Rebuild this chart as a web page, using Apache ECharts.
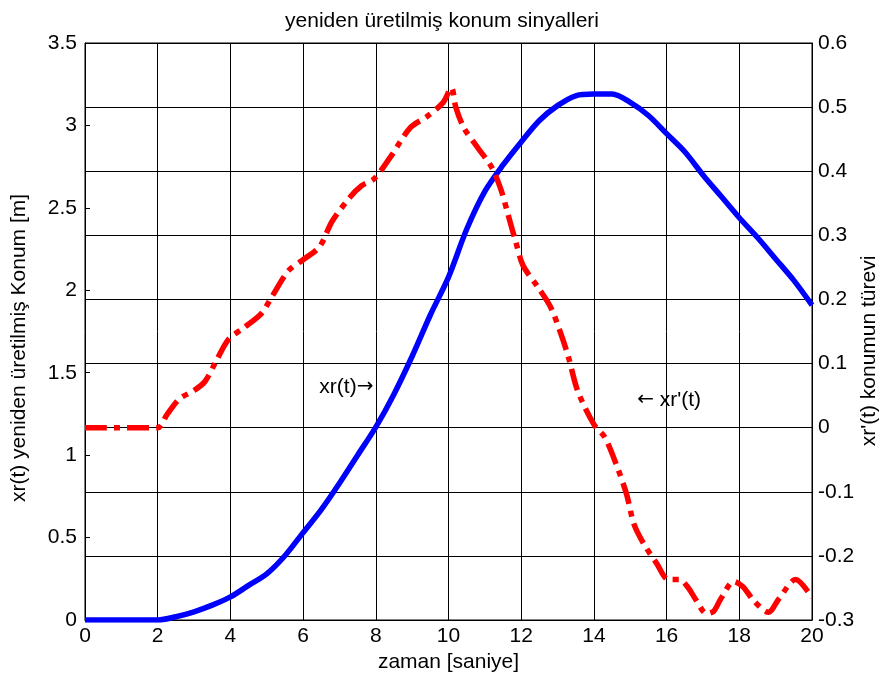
<!DOCTYPE html>
<html><head><meta charset="utf-8">
<script src="https://cdn.jsdelivr.net/npm/echarts@6/dist/echarts.min.js"></script>
<style>html,body{margin:0;padding:0;background:#fff}#c{width:884px;height:683px}</style>
</head><body><div id="c"></div>
<script>
const titleText = "yeniden üretilmiş konum sinyalleri";
const xName = "zaman [saniye]";
const leftName = "xr(t) yeniden üretilmiş Konum [m]";
const rightName = "xr'(t) konumun türevi";

const blueT = [0,0.5,1,1.5,2,2.5,3,3.5,4,4.5,5,5.5,6,6.5,7,7.5,8,8.5,9,9.5,10,10.5,11,11.5,12,12.5,13,13.5,14,14.5,15,15.5,16,16.5,17,17.5,18,18.5,19,19.5,20];
const blueV = [0,0,0,0,0,0.02,0.05,0.09,0.14,0.21,0.28,0.39,0.53,0.67,0.83,1.0,1.17,1.37,1.6,1.85,2.08,2.37,2.6,2.76,2.9,3.03,3.12,3.18,3.19,3.19,3.14,3.06,2.95,2.84,2.7,2.57,2.44,2.32,2.19,2.06,1.91];

const redT = [0,2,2.25,2.6,3,3.3,3.6,3.95,4.35,4.85,5.15,5.6,6,6.45,6.8,7.3,7.6,7.95,8.4,8.95,9.4,9.85,10.08,10.2,10.42,10.8,11.2,11.45,11.65,11.85,12.05,12.45,12.8,13.07,13.3,13.55,14,14.3,14.6,14.9,15.1,15.36,15.73,16.05,16.35,16.6,16.8,17.1,17.3,17.5,17.85,18.1,18.4,18.8,19.1,19.55,20];
const redV = [0,0,0.02,0.045,0.058,0.072,0.103,0.138,0.155,0.178,0.205,0.245,0.262,0.282,0.322,0.36,0.377,0.388,0.422,0.468,0.485,0.507,0.53,0.5,0.468,0.437,0.405,0.37,0.33,0.29,0.253,0.22,0.189,0.15,0.11,0.058,0.005,-0.015,-0.055,-0.104,-0.15,-0.18,-0.212,-0.237,-0.237,-0.25,-0.268,-0.29,-0.286,-0.266,-0.24,-0.248,-0.27,-0.288,-0.266,-0.237,-0.265];

const noteBlue = {t: 7.19, v: 1.415, text: "xr(t){a|\u2192}"};
const noteRed = {t: 16.07, v: 0.043, text: "{a|\u2190} xr'(t)"};

const FONT = "'Liberation Sans', Arial, sans-serif";
const FS = 21;
const arrowRich = {a: {fontFamily: "'DejaVu Sans', sans-serif", fontSize: 20, color: '#000'}};

const chart = echarts.init(document.getElementById('c'), null, {renderer: 'canvas'});
const axisLine = {show: true, lineStyle: {color: '#000', width: 1}};
chart.setOption({
  animation: false,
  backgroundColor: '#fff',
  title: {text: titleText, left: 'center', top: 6, textStyle: {fontFamily: FONT, fontSize: FS, fontWeight: 'normal', color: '#000'}},
  grid: {left: 85, right: 72, top: 43, bottom: 63, show: true, borderColor: '#000', borderWidth: 1, backgroundColor: '#fff'},
  graphic: [
    {type: 'text', rotation: Math.PI / 2, x: 19, y: 348,
     style: {text: leftName, fontFamily: FONT, fontSize: FS, fill: '#000', align: 'center', verticalAlign: 'middle'}, silent: true},
    {type: 'text', rotation: Math.PI / 2, x: 869, y: 351,
     style: {text: rightName, fontFamily: FONT, fontSize: FS, fill: '#000', align: 'center', verticalAlign: 'middle'}, silent: true}
  ],
  xAxis: {
    type: 'value', min: 0, max: 20, interval: 2,
    axisLine: axisLine,
    axisTick: {show: true, inside: true, length: 5, lineStyle: {color: '#000'}},
    axisLabel: {color: '#000', fontFamily: FONT, fontSize: FS, margin: 6},
    splitLine: {show: true, lineStyle: {color: '#000', width: 1}},
    name: xName, nameLocation: 'middle', nameGap: 30,
    nameTextStyle: {color: '#000', fontFamily: FONT, fontSize: FS}
  },
  yAxis: [{
    type: 'value', min: 0, max: 3.5, interval: 0.5, position: 'left',
    axisLine: axisLine,
    axisTick: {show: true, inside: true, length: 5, lineStyle: {color: '#000'}},
    axisLabel: {color: '#000', fontFamily: FONT, fontSize: FS, margin: 8},
    splitLine: {show: false}
  }, {
    type: 'value', min: -0.3, max: 0.6, interval: 0.1, position: 'right',
    axisLine: axisLine,
    axisTick: {show: true, inside: true, length: 5, lineStyle: {color: '#000'}},
    axisLabel: {color: '#000', fontFamily: FONT, fontSize: FS, margin: 6,
      formatter: v => { const r = Math.round(v * 10) / 10; return r === 0 ? '0' : String(r); }},
    splitLine: {show: true, lineStyle: {color: '#000', width: 1}}
  }],
  series: [{
    type: 'line', yAxisIndex: 0, showSymbol: false, symbol: 'none', smooth: 0.3,
    data: blueT.map((t, i) => [t, blueV[i]]),
    lineStyle: {color: '#0000ff', width: 5.5},
    z: 3,
    markPoint: {
      symbol: 'circle', symbolSize: 1, itemStyle: {color: 'rgba(0,0,0,0)'},
      label: {show: true, position: 'inside', color: '#000', fontFamily: FONT, fontSize: FS, formatter: noteBlue.text, rich: arrowRich},
      data: [{name: 'xr', coord: [noteBlue.t, noteBlue.v]}]
    }
  }, {
    type: 'line', yAxisIndex: 1, showSymbol: false, symbol: 'none', smooth: 0.3,
    data: redT.map((t, i) => [t, redV[i]]),
    lineStyle: {color: '#ff0000', width: 5.5, type: [22, 7, 6, 7], cap: 'butt'},
    z: 4,
    markPoint: {
      symbol: 'circle', symbolSize: 1, itemStyle: {color: 'rgba(0,0,0,0)'},
      label: {show: true, position: 'inside', color: '#000', fontFamily: FONT, fontSize: FS, formatter: noteRed.text, rich: arrowRich},
      data: [{name: 'xrd', coord: [noteRed.t, noteRed.v]}]
    }
  }]
});
</script></body></html>
